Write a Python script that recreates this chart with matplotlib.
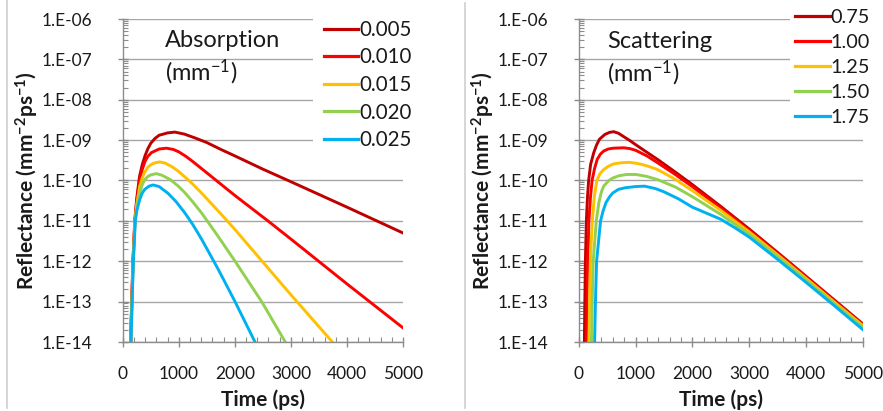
import matplotlib.pyplot as plt
from matplotlib.lines import Line2D
from matplotlib.ticker import FixedLocator, MultipleLocator, LogLocator, NullFormatter

plt.rcParams['font.family'] = ['Lato', 'DejaVu Sans']
plt.rcParams['mathtext.default'] = 'regular'

colors = ['#C00000', '#FF0000', '#FFC000', '#92D050', '#00B0F0']
abs_labels = ['0.005', '0.010', '0.015', '0.020', '0.025']
sca_labels = ['0.75', '1.00', '1.25', '1.50', '1.75']
xticks = [0, 1000, 2000, 3000, 4000, 5000]
yticks = [1e-14, 1e-13, 1e-12, 1e-11, 1e-10, 1e-9, 1e-8, 1e-7, 1e-6]
ytick_labels = ['1.E-14', '1.E-13', '1.E-12', '1.E-11', '1.E-10',
                '1.E-09', '1.E-08', '1.E-07', '1.E-06']

# absorption panel (time in ps, reflectance)
abs_t = [
    [140, 160, 182, 215, 250, 300, 350, 400, 450, 500, 575, 650, 800, 930, 1100, 1300, 1500,
     1750, 2000, 2500, 3000, 4000, 5000],
    [142, 162, 184, 217, 250, 300, 350, 400, 450, 512, 650, 781, 900, 1000, 1125, 1250, 1500,
     1750, 2000, 2590, 3000, 4000, 5000],
    [144, 164, 186, 219, 250, 304, 350, 393, 450, 512, 580, 661, 760, 880, 1000, 1108, 1250,
     1406, 1700, 2000, 2500, 3000, 3500, 3740],
    [146, 166, 188, 222, 250, 304, 350, 393, 450, 500, 602, 700, 850, 1000, 1108, 1250, 1406,
     1700, 2000, 2479, 2900],
    [148, 168, 190, 225, 250, 304, 350, 393, 470, 542, 650, 810, 950, 1108, 1250, 1406, 1704,
     1996, 2360],
]
abs_r = [
    [1e-14, 1e-13, 1e-12, 1e-11, 3.55e-11, 1.26e-10, 2.51e-10, 4.17e-10, 6.17e-10, 8.32e-10,
     1.10e-9, 1.32e-9, 1.51e-9, 1.58e-9, 1.41e-9, 1.12e-9, 8.71e-10, 5.89e-10, 4.07e-10,
     1.91e-10, 9.33e-11, 2.19e-11, 5.01e-12],
    [1e-14, 1e-13, 1e-12, 1e-11, 3.02e-11, 1e-10, 1.91e-10, 3.02e-10, 3.98e-10, 4.90e-10,
     6.03e-10, 6.31e-10, 5.89e-10, 5.13e-10, 3.98e-10, 2.95e-10, 1.55e-10, 8.13e-11, 4.27e-11,
     1e-11, 3.55e-12, 2.75e-13, 2.24e-14],
    [1e-14, 1e-13, 1e-12, 1e-11, 2.51e-11, 7.24e-11, 1.17e-10, 1.62e-10, 2.14e-10, 2.51e-10,
     2.75e-10, 2.88e-10, 2.69e-10, 2.19e-10, 1.66e-10, 1.23e-10, 8.13e-11, 4.90e-11, 1.78e-11,
     6.17e-12, 9.55e-13, 1.48e-13, 2.40e-14, 1e-14],
    [1e-14, 1e-13, 1e-12, 1e-11, 2.09e-11, 4.90e-11, 7.94e-11, 1.05e-10, 1.26e-10, 1.38e-10,
     1.48e-10, 1.35e-10, 1.05e-10, 7.08e-11, 5.01e-11, 2.95e-11, 1.58e-11, 4.17e-12, 1.02e-12,
     1e-13, 1e-14],
    [1e-14, 1e-13, 1e-12, 1e-11, 1.74e-11, 3.39e-11, 4.90e-11, 6.03e-11, 7.24e-11, 7.76e-11,
     7.08e-11, 4.79e-11, 3.02e-11, 1.58e-11, 8.13e-12, 3.55e-12, 6.31e-13, 1.05e-13, 1e-14],
]

# scattering panel
sca_t = [
    [100, 108, 118, 135, 155, 175, 210, 265, 315, 365, 460, 540, 615, 700, 800, 900, 1000, 1200,
     1400, 1700, 2000, 2500, 3000, 3500, 4000, 4500, 5000],
    [135, 145, 158, 180, 205, 235, 280, 325, 380, 440, 520, 610, 790, 900, 1000, 1200, 1390,
     1700, 2000, 2500, 3000, 3500, 4000, 4500, 5000],
    [180, 192, 205, 240, 275, 320, 375, 440, 520, 610, 750, 890, 1000, 1110, 1250, 1390, 1700,
     2000, 2500, 3000, 3500, 4000, 4500, 5000],
    [225, 238, 255, 310, 355, 400, 440, 530, 600, 715, 850, 1010, 1200, 1390, 1700, 2000, 2500,
     3000, 3500, 4000, 4500, 5000],
    [280, 295, 315, 385, 430, 480, 540, 600, 700, 820, 1000, 1160, 1350, 1500, 1750, 2000, 2250,
     2500, 2750, 3000, 3500, 4000, 4500, 5000],
]
sca_r = [
    [1e-14, 1e-13, 1e-12, 1e-11, 3.98e-11, 1e-10, 2.51e-10, 4.90e-10, 7.59e-10, 1.05e-9,
     1.38e-9, 1.55e-9, 1.62e-9, 1.48e-9, 1.20e-9, 9.77e-10, 7.76e-10, 5.01e-10, 3.24e-10,
     1.62e-10, 7.94e-11, 2.29e-11, 6.31e-12, 1.66e-12, 4.27e-13, 1.10e-13, 2.82e-14],
    [1e-14, 1e-13, 1e-12, 1e-11, 3.55e-11, 1e-10, 2.0e-10, 3.31e-10, 4.47e-10, 5.37e-10,
     6.03e-10, 6.31e-10, 6.46e-10, 6.17e-10, 5.62e-10, 4.07e-10, 2.75e-10, 1.41e-10, 7.08e-11,
     2.09e-11, 5.89e-12, 1.58e-12, 4.07e-13, 1.05e-13, 2.69e-14],
    [1e-14, 1e-13, 1e-12, 1e-11, 3.98e-11, 1e-10, 1.48e-10, 1.86e-10, 2.24e-10, 2.57e-10,
     2.75e-10, 2.82e-10, 2.69e-10, 2.51e-10, 2.19e-10, 1.86e-10, 1.07e-10, 5.62e-11, 1.82e-11,
     5.37e-12, 1.45e-12, 3.80e-13, 9.77e-14, 2.57e-14],
    [1e-14, 1e-13, 1e-12, 1e-11, 2.82e-11, 5.25e-11, 7.24e-11, 1e-10, 1.15e-10, 1.32e-10,
     1.41e-10, 1.41e-10, 1.26e-10, 1.05e-10, 6.92e-11, 3.98e-11, 1.45e-11, 4.68e-12, 1.32e-12,
     3.47e-13, 8.91e-14, 2.34e-14],
    [1e-14, 1e-13, 1e-12, 1e-11, 1.78e-11, 2.82e-11, 3.89e-11, 4.90e-11, 6.03e-11, 6.61e-11,
     7.08e-11, 7.24e-11, 6.31e-11, 5.25e-11, 3.55e-11, 2.19e-11, 1.55e-11, 1.10e-11, 6.76e-12,
     3.98e-12, 1.12e-12, 3.02e-13, 7.94e-14, 2.04e-14],
]

W, H = 883, 411
fig = plt.figure(figsize=(W / 100, H / 100), dpi=100)
ax1 = fig.add_axes([122.7 / W, 69 / H, 280.3 / W, 323 / H])
ax2 = fig.add_axes([578.7 / W, 69 / H, 284 / W, 323 / H])

gray = '#8c8c8c'
txt = '#1a1a1a'


def style(ax):
    ax.set_yscale('log')
    ax.set_xlim(0, 5000)
    ax.set_ylim(1e-14, 1e-6)
    ax.yaxis.set_major_locator(FixedLocator(yticks))
    ax.set_yticklabels(ytick_labels)
    ax.yaxis.set_minor_locator(LogLocator(base=10, subs=range(2, 10), numticks=20))
    ax.yaxis.set_minor_formatter(NullFormatter())
    ax.set_xticks(xticks)
    ax.xaxis.set_minor_locator(MultipleLocator(200))
    for s in ['top', 'right']:
        ax.spines[s].set_visible(False)
    for s in ['left', 'bottom']:
        ax.spines[s].set_color(gray)
        ax.spines[s].set_linewidth(1)
    ax.grid(axis='y', which='major', color='#a6a6a6', linewidth=1)
    ax.set_axisbelow(True)
    ax.tick_params(which='major', direction='inout', length=7, width=1, color=gray,
                   labelsize=12.5, labelcolor=txt)
    ax.tick_params(axis='y', which='major', pad=18.5)
    ax.tick_params(axis='x', which='major', pad=14)
    ax.tick_params(which='minor', direction='in', length=3.5, width=0.8, color=gray)
    ax.set_xlabel('Time (ps)', fontsize=15, fontweight='bold', color=txt)
    ax.set_ylabel('Reflectance (mm$^{-2}$ps$^{-1}$)', fontsize=15, fontweight='bold',
                  color=txt, va='center')


style(ax1)
style(ax2)

for t, r, c in zip(abs_t, abs_r, colors):
    ax1.plot(t, r, color=c, linewidth=2.1, solid_joinstyle='round')
for t, r, c in zip(sca_t, sca_r, colors):
    ax2.plot(t, r, color=c, linewidth=2.1, solid_joinstyle='round')

ax1.xaxis.set_label_coords(0.5, -0.148)
ax2.xaxis.set_label_coords(0.5, -0.148)
ax1.yaxis.set_label_coords((27 - 122.7) / 280.3, 0.5)
ax2.yaxis.set_label_coords((483 - 578.7) / 284, 0.5)

ax1.text((165 - 122.7) / 280.3, (342 - 47) / 323, 'Absorption', transform=ax1.transAxes,
         fontsize=17, color=txt, va='baseline')
ax1.text((165 - 122.7) / 280.3, (342 - 80) / 323, '(mm$^{-1}$)', transform=ax1.transAxes,
         fontsize=17, color=txt, va='baseline')
ax2.text((607 - 578.7) / 284, (342 - 48) / 323, 'Scattering', transform=ax2.transAxes,
         fontsize=17, color=txt, va='baseline')
ax2.text((607 - 578.7) / 284, (342 - 81) / 323, '(mm$^{-1}$)', transform=ax2.transAxes,
         fontsize=17, color=txt, va='baseline')

handles = [Line2D([], [], color=c, linewidth=2.3) for c in colors]
leg1 = ax1.legend(handles, abs_labels, loc='upper left', bbox_to_anchor=(313 / W, 1 - 8.5 / H),
                  bbox_transform=fig.transFigure, fontsize=14.8, frameon=True, facecolor='white',
                  edgecolor='none', framealpha=1, fancybox=False, handlelength=1.65,
                  handletextpad=0.05, labelspacing=0.37, borderpad=0.55, borderaxespad=0)
for tx in leg1.get_texts():
    tx.set_color(txt)
leg2 = ax2.legend(handles, sca_labels, loc='upper left', bbox_to_anchor=(790 / W, 1 - 4 / H),
                  bbox_transform=fig.transFigure, fontsize=14.3, frameon=True, facecolor='white',
                  edgecolor='none', framealpha=1, fancybox=False, handlelength=1.75,
                  handletextpad=0.05, labelspacing=0.4, borderpad=0.25, borderaxespad=0)
for tx in leg2.get_texts():
    tx.set_color(txt)

# panel borders
fig.add_artist(Line2D([7.5 / W, 7.5 / W], [1 - 408 / H, 1], transform=fig.transFigure,
                      color='#cfcfcf', linewidth=1.2))
fig.add_artist(Line2D([465 / W, 465 / W], [1 - 408 / H, 1 - 3 / H], transform=fig.transFigure,
                      color='#cfcfcf', linewidth=1.2))

fig.savefig('out.png', dpi=100)
